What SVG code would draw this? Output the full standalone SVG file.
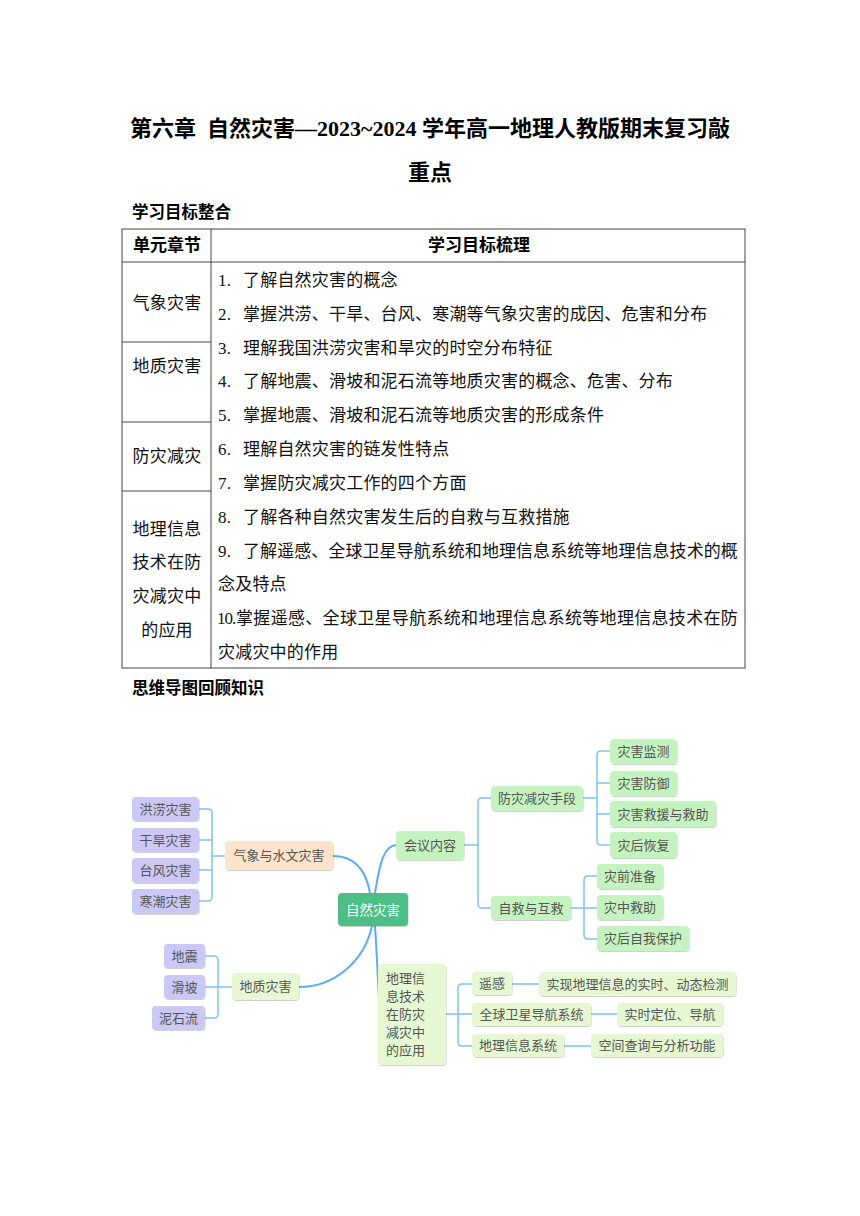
<svg xmlns="http://www.w3.org/2000/svg" width="860" height="1216" viewBox="0 0 860 1216">
<defs>
<filter id="sh" x="-10%" y="-10%" width="130%" height="140%">
<feDropShadow dx="0.6" dy="1" stdDeviation="0.7" flood-color="#000" flood-opacity="0.18"/>
</filter>
</defs>
<style>
.title{font-family:"Liberation Serif","Noto Sans CJK SC",serif;font-weight:bold;font-size:22px;fill:#000}
.sub{font-family:"Liberation Serif","Noto Sans CJK SC",serif;font-weight:bold;font-size:16.5px;fill:#000}
.th{font-family:"Liberation Serif","Noto Sans CJK SC",serif;font-weight:bold;font-size:17px;fill:#000}
.td{font-family:"Liberation Serif","Noto Sans CJK SC",serif;font-size:17px;letter-spacing:0.2px;fill:#111}
.grid{stroke:#444;stroke-width:1;fill:none}
.n{font-family:"Noto Sans CJK SC","Noto Sans",sans-serif;font-size:13px;fill:#555;text-anchor:middle}
.nl{font-family:"Noto Sans CJK SC","Noto Sans",sans-serif;font-size:13px;fill:#555}
.nc{font-family:"Noto Sans CJK SC","Noto Sans",sans-serif;font-size:13.5px;fill:#fff;text-anchor:middle}
.lav{fill:#cbc8f6}
.pch{fill:#fde3cb}
.grn{fill:#c5f3c0}
.pal{fill:#e5f8d2}
.ctr{fill:#4bbf85}
.main{stroke:#5aaef0;stroke-width:2;fill:none}
.br{stroke:#7fc2f0;stroke-width:1.5;fill:none}
</style>

<g id="header">
<text class="title" x="430" y="136" text-anchor="middle" xml:space="preserve">第六章  自然灾害—2023~2024 学年高一地理人教版期末复习敲</text>
<text class="title" x="430" y="180" text-anchor="middle">重点</text>
<text class="sub" x="132" y="218">学习目标整合</text>
</g>

<g id="table">
<rect class="grid" x="122" y="229" width="623" height="439" stroke-width="1.3"/>
<line class="grid" x1="122" y1="262" x2="745" y2="262"/>
<line class="grid" x1="211" y1="229" x2="211" y2="668"/>
<line class="grid" x1="122" y1="342" x2="211" y2="342"/>
<line class="grid" x1="122" y1="422" x2="211" y2="422"/>
<line class="grid" x1="122" y1="491" x2="211" y2="491"/>
<text class="th" x="167" y="251" text-anchor="middle">单元章节</text>
<text class="th" x="479" y="251" text-anchor="middle">学习目标梳理</text>
<text class="td" x="167" y="309" text-anchor="middle">气象灾害</text>
<text class="td" x="167" y="372" text-anchor="middle">地质灾害</text>
<text class="td" x="167" y="462" text-anchor="middle">防灾减灾</text>
<text class="td" x="167" y="535" text-anchor="middle">地理信息</text>
<text class="td" x="167" y="568" text-anchor="middle">技术在防</text>
<text class="td" x="167" y="602" text-anchor="middle">灾减灾中</text>
<text class="td" x="167" y="636" text-anchor="middle">的应用</text>
<text class="td" x="218" y="286">1.</text><text class="td" x="243" y="286">了解自然灾害的概念</text>
<text class="td" x="218" y="320">2.</text><text class="td" x="243" y="320">掌握洪涝、干旱、台风、寒潮等气象灾害的成因、危害和分布</text>
<text class="td" x="218" y="354">3.</text><text class="td" x="243" y="354">理解我国洪涝灾害和旱灾的时空分布特征</text>
<text class="td" x="218" y="387">4.</text><text class="td" x="243" y="387">了解地震、滑坡和泥石流等地质灾害的概念、危害、分布</text>
<text class="td" x="218" y="421">5.</text><text class="td" x="243" y="421">掌握地震、滑坡和泥石流等地质灾害的形成条件</text>
<text class="td" x="218" y="455">6.</text><text class="td" x="243" y="455">理解自然灾害的链发性特点</text>
<text class="td" x="218" y="489">7.</text><text class="td" x="243" y="489">掌握防灾减灾工作的四个方面</text>
<text class="td" x="218" y="523">8.</text><text class="td" x="243" y="523">了解各种自然灾害发生后的自救与互救措施</text>
<text class="td" x="218" y="557">9.</text><text class="td" x="243" y="557" textLength="495" lengthAdjust="spacing">了解遥感、全球卫星导航系统和地理信息系统等地理信息技术的概</text>
<text class="td" x="218" y="590">念及特点</text>
<text class="td" x="217" y="624" style="letter-spacing:-1px">10.</text><text class="td" x="236" y="624" textLength="502" lengthAdjust="spacing">掌握遥感、全球卫星导航系统和地理信息系统等地理信息技术在防</text>
<text class="td" x="218" y="658">灾减灾中的作用</text>
<text class="sub" x="132" y="694">思维导图回顾知识</text>
</g>

<g id="connectors">
<path class="main" d="M333,856 C355,856 366,870 370,893"/>
<path class="main" d="M375,893 C380,862 384,845 397,845"/>
<path class="main" d="M372,926 C364,962 334,987 299,987"/>
<path class="main" d="M375,926 C377,955 378,985 380,1014"/>
<path class="br" d="M199,809 H208 Q212,809 212,813 V897 Q212,901 208,901 H199 M199,840 H212 M199,870 H212 M212,856 H225"/>
<path class="br" d="M205,956 H214 Q218,956 218,960 V1014 Q218,1018 214,1018 H205 M205,987 H232"/>
<path class="br" d="M464,845 H478 M491,798 H482 Q478,798 478,802 V904 Q478,908 482,908 H491"/>
<path class="br" d="M583,798 H597 M610,751 H601 Q597,751 597,755 V841 Q597,845 601,845 H610 M597,783 H610 M597,814 H610"/>
<path class="br" d="M571,908 H597 M597,876 H588 Q584,876 584,880 V935 Q584,939 588,939 H597"/>
<path class="br" d="M446,1014 H472 M472,984 H462 Q458,984 458,988 V1042 Q458,1046 462,1046 H472"/>
<path class="br" d="M512,984 H539 M591,1014 H617 M564,1046 H591"/>
</g>

<g id="n-honglao"><rect class="lav" filter="url(#sh)" x="132" y="797" width="67" height="24" rx="4"/><text class="n" x="165.5" y="813.5">洪涝灾害</text></g>
<g id="n-ganhan"><rect class="lav" filter="url(#sh)" x="132" y="828" width="67" height="24" rx="4"/><text class="n" x="165.5" y="844.5">干旱灾害</text></g>
<g id="n-taifeng"><rect class="lav" filter="url(#sh)" x="132" y="858" width="67" height="25" rx="4"/><text class="n" x="165.5" y="875">台风灾害</text></g>
<g id="n-hanchao"><rect class="lav" filter="url(#sh)" x="132" y="889" width="67" height="25" rx="4"/><text class="n" x="165.5" y="906">寒潮灾害</text></g>
<g id="n-qixiang"><rect class="pch" filter="url(#sh)" x="225" y="841" width="108" height="29" rx="4"/><text class="n" x="279" y="860">气象与水文灾害</text></g>
<g id="n-dizhen"><rect class="lav" filter="url(#sh)" x="164" y="944" width="41" height="24" rx="4"/><text class="n" x="184.5" y="960.5">地震</text></g>
<g id="n-huapo"><rect class="lav" filter="url(#sh)" x="164" y="975" width="41" height="24" rx="4"/><text class="n" x="184.5" y="991.5">滑坡</text></g>
<g id="n-nishiliu"><rect class="lav" filter="url(#sh)" x="152" y="1006" width="53" height="24" rx="4"/><text class="n" x="178.5" y="1022.5">泥石流</text></g>
<g id="n-dizhi"><rect class="pal" filter="url(#sh)" x="232" y="973" width="67" height="27" rx="4"/><text class="n" x="265.5" y="991">地质灾害</text></g>
<g id="n-center"><rect class="ctr" filter="url(#sh)" x="338" y="893" width="70" height="33" rx="4"/><text class="nc" x="373" y="914.5">自然灾害</text></g>
<g id="n-huiyi"><rect class="grn" filter="url(#sh)" x="396" y="831" width="68" height="29" rx="4"/><text class="n" x="430" y="850">会议内容</text></g>
<g id="n-fangzai"><rect class="grn" filter="url(#sh)" x="491" y="786" width="92" height="25" rx="4"/><text class="n" x="537" y="803">防灾减灾手段</text></g>
<g id="n-zijiu"><rect class="grn" filter="url(#sh)" x="491" y="896" width="80" height="24" rx="4"/><text class="n" x="531" y="912.5">自救与互救</text></g>
<g id="n-jiance"><rect class="grn" filter="url(#sh)" x="610" y="739" width="67" height="25" rx="4"/><text class="n" x="643.5" y="756">灾害监测</text></g>
<g id="n-fangyu"><rect class="grn" filter="url(#sh)" x="610" y="771" width="67" height="25" rx="4"/><text class="n" x="643.5" y="788">灾害防御</text></g>
<g id="n-jiuyuan"><rect class="grn" filter="url(#sh)" x="610" y="801" width="106" height="26" rx="4"/><text class="n" x="663" y="818.5">灾害救援与救助</text></g>
<g id="n-huifu"><rect class="grn" filter="url(#sh)" x="610" y="832" width="67" height="26" rx="4"/><text class="n" x="643.5" y="849.5">灾后恢复</text></g>
<g id="n-zhunbei"><rect class="grn" filter="url(#sh)" x="597" y="864" width="66" height="25" rx="4"/><text class="n" x="630" y="881">灾前准备</text></g>
<g id="n-jiuzhu"><rect class="grn" filter="url(#sh)" x="597" y="895" width="66" height="25" rx="4"/><text class="n" x="630" y="912">灾中救助</text></g>
<g id="n-baohu"><rect class="grn" filter="url(#sh)" x="597" y="926" width="92" height="25" rx="4"/><text class="n" x="643" y="943">灾后自我保护</text></g>
<g id="n-dilixinxi"><rect class="pal" filter="url(#sh)" x="378" y="964" width="68" height="101" rx="4"/>
<text class="nl" x="386" y="982.5">地理信</text>
<text class="nl" x="386" y="1001">息技术</text>
<text class="nl" x="386" y="1019">在防灾</text>
<text class="nl" x="386" y="1037">减灾中</text>
<text class="nl" x="386" y="1055">的应用</text></g>
<g id="n-yaogan"><rect class="pal" filter="url(#sh)" x="472" y="972" width="40" height="23" rx="4"/><text class="n" x="492" y="988">遥感</text></g>
<g id="n-yaogan-d"><rect class="pal" filter="url(#sh)" x="539" y="972" width="197" height="24" rx="4"/><text class="n" x="637.5" y="988.5">实现地理信息的实时、动态检测</text></g>
<g id="n-gnss"><rect class="pal" filter="url(#sh)" x="472" y="1003" width="119" height="23" rx="4"/><text class="n" x="531.5" y="1019">全球卫星导航系统</text></g>
<g id="n-gnss-d"><rect class="pal" filter="url(#sh)" x="617" y="1003" width="106" height="23" rx="4"/><text class="n" x="670" y="1019">实时定位、导航</text></g>
<g id="n-gis"><rect class="pal" filter="url(#sh)" x="472" y="1034" width="92" height="23" rx="4"/><text class="n" x="518" y="1050">地理信息系统</text></g>
<g id="n-gis-d"><rect class="pal" filter="url(#sh)" x="591" y="1034" width="132" height="23" rx="4"/><text class="n" x="657" y="1050">空间查询与分析功能</text></g>
</svg>
